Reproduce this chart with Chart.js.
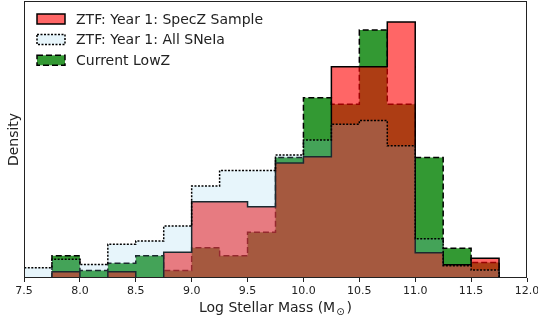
<!DOCTYPE html>
<html>
<head>
<meta charset="utf-8">
<script src="https://cdn.jsdelivr.net/npm/chart.js@4.4.1/dist/chart.umd.min.js"></script>
<style>
  html, body { margin: 0; padding: 0; background: #fff; }
  #wrap { width: 538px; height: 323px; }
</style>
</head>
<body>
<div id="wrap"><canvas id="massHist"></canvas></div>
<script>
// bin edges of the host stellar mass histogram (log M_sun)
const binEdges = [7.5, 7.75, 8.0, 8.25, 8.5, 8.75, 9.0, 9.25, 9.5, 9.75,
                  10.0, 10.25, 10.5, 10.75, 11.0, 11.25, 11.5, 11.75, 12.0];

// densities per bin
const speczDensity = [0, 0.020, 0, 0.020, 0, 0.083, 0.247, 0.247, 0.231, 0.372,
                      0.393, 0.684, 0.684, 0.829, 0.082, 0.043, 0.064, 0];
const allSneDensity = [0.033, 0.061, 0.044, 0.109, 0.120, 0.168, 0.298, 0.348, 0.348, 0.398,
                       0.447, 0.498, 0.510, 0.428, 0.127, 0.040, 0.026, 0];
const lowzDensity = [0, 0.072, 0.024, 0.048, 0.072, 0.024, 0.098, 0.072, 0.148, 0.390,
                     0.584, 0.563, 0.803, 0.563, 0.390, 0.096, 0.050, 0];

const seriesNames = ["ZTF: Year 1: SpecZ Sample", "ZTF: Year 1: All SNeIa", "Current LowZ"];

const FONT = '"DejaVu Sans", Verdana, sans-serif';
const INK = "#222";

// histogram outline: up at the first edge, flat across each bin, down at the last edge
function stepPoints(values) {
  const pts = [{ x: binEdges[0], y: 0 }];
  values.forEach((v, i) => pts.push({ x: binEdges[i], y: v }));
  const last = values[values.length - 1];
  pts.push({ x: binEdges[binEdges.length - 1], y: last });
  pts.push({ x: binEdges[binEdges.length - 1], y: 0 });
  return pts;
}

function histSet(label, values, fillColor, dash, order) {
  return {
    label,
    data: stepPoints(values),
    stepped: true,
    fill: "origin",
    backgroundColor: fillColor,
    borderColor: "#000",
    borderWidth: 1.5,
    borderDash: dash,
    pointRadius: 0,
    order
  };
}

// frame, legend and the x label (needs a subscript) are drawn by hand
const extras = {
  id: "extras",
  afterDraw(chart) {
    const { ctx, chartArea: a } = chart;
    ctx.save();

    ctx.strokeStyle = INK;
    ctx.lineWidth = 1;
    ctx.setLineDash([]);
    ctx.strokeRect(Math.round(a.left) + 0.5, Math.round(a.top) + 0.5,
                   Math.round(a.right - a.left) - 1, Math.round(a.bottom - a.top) - 1);

    // legend
    const boxX = 37, boxW = 28, boxH = 10, rowY = [19, 39.5, 60.3];
    ctx.font = "14px " + FONT;
    ctx.textBaseline = "middle";
    chart.data.datasets.forEach((ds, i) => {
      const cy = rowY[i];
      ctx.fillStyle = "#fff";
      ctx.fillRect(boxX, cy - boxH / 2, boxW, boxH);
      ctx.fillStyle = ds.backgroundColor;
      ctx.fillRect(boxX, cy - boxH / 2, boxW, boxH);
      ctx.setLineDash(ds.borderDash);
      ctx.lineWidth = 1.5;
      ctx.strokeStyle = "#000";
      ctx.strokeRect(boxX, cy - boxH / 2, boxW, boxH);
      ctx.setLineDash([]);
      ctx.fillStyle = INK;
      ctx.fillText(ds.label, 76, cy + 1);
    });

    // x axis title with M_sun, centred under the plot
    ctx.textBaseline = "alphabetic";
    ctx.fillStyle = INK;
    const main = "Log Stellar Mass (M";
    ctx.font = "14px " + FONT;
    const wMain = ctx.measureText(main).width;
    const wParen = ctx.measureText(")").width;
    ctx.font = "10px " + FONT;
    const wSun = ctx.measureText("\u2299").width;
    const total = wMain + 1 + wSun + 2 + wParen;
    let x = (a.left + a.right) / 2 - total / 2;
    const base = 312;
    ctx.font = "14px " + FONT;
    ctx.fillText(main, x, base);
    x += wMain + 1;
    ctx.font = "10px " + FONT;
    ctx.fillText("\u2299", x, base + 3);
    x += wSun + 2;
    ctx.font = "14px " + FONT;
    ctx.fillText(")", x, base);

    ctx.restore();
  }
};

new Chart(document.getElementById("massHist"), {
  type: "line",
  data: {
    datasets: [
      histSet(seriesNames[0], speczDensity, "rgba(255, 0, 0, 0.6)", [], 2),
      histSet(seriesNames[1], allSneDensity, "rgba(135, 206, 235, 0.2)", [2, 1.5], 1),
      histSet(seriesNames[2], lowzDensity, "rgba(0, 128, 0, 0.8)", [6, 3], 3)
    ]
  },
  options: {
    responsive: true,
    maintainAspectRatio: false,
    animation: false,
    layout: { padding: { top: 1, right: 0, left: 0, bottom: 0 } },
    plugins: { legend: { display: false }, tooltip: { enabled: false } },
    elements: { line: { tension: 0 } },
    scales: {
      x: {
        type: "linear",
        min: 7.5,
        max: 12.0,
        border: { display: false },
        grid: { drawOnChartArea: false, drawTicks: true, tickLength: 4, color: INK },
        ticks: {
          stepSize: 0.5,
          autoSkip: false,
          maxRotation: 0,
          padding: 3,
          color: INK,
          font: { family: FONT, size: 11 },
          callback: (v) => Number(v).toFixed(1)
        },
        afterFit: (s) => { s.height = 45; s.paddingLeft = 0; s.paddingRight = 11; }
      },
      y: {
        min: 0,
        max: 0.897,
        border: { display: false },
        grid: { display: false },
        ticks: { display: false },
        title: { display: true, text: "Density", color: INK, font: { family: FONT, size: 14 }, padding: { top: 6, bottom: 0 } },
        afterFit: (s) => { s.width = 24; }
      }
    }
  },
  plugins: [extras]
});
</script>
</body>
</html>
